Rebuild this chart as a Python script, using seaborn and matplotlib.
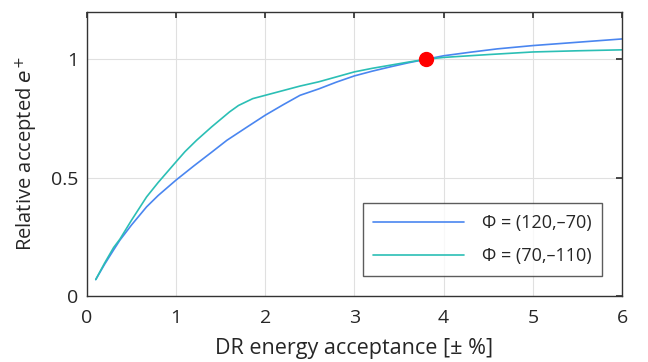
import numpy as np
import pandas as pd
import matplotlib
matplotlib.use("Agg")
import matplotlib.pyplot as plt
import seaborn as sns

# Data
x_a = [0.1, 0.2, 0.3, 0.37, 0.5, 0.67, 0.8, 1.0, 1.2, 1.4, 1.57, 1.8, 2.0, 2.2,
       2.39, 2.6, 2.8, 3.0, 3.2, 3.4, 3.6, 3.8, 4.0, 4.3, 4.6, 5.0, 5.5, 6.0]
y_a = [0.07, 0.135, 0.195, 0.236, 0.3, 0.377, 0.425, 0.49, 0.55, 0.608, 0.658,
       0.715, 0.764, 0.808, 0.848, 0.875, 0.904, 0.93, 0.95, 0.968, 0.985, 1.0,
       1.015, 1.03, 1.044, 1.058, 1.072, 1.086]
x_b = [0.1, 0.2, 0.3, 0.37, 0.5, 0.67, 0.8, 1.0, 1.1, 1.23, 1.4, 1.6, 1.7, 1.86,
       2.0, 2.2, 2.39, 2.6, 2.8, 3.0, 3.2, 3.4, 3.6, 3.8, 4.0, 4.5, 5.0, 5.5, 6.0]
y_b = [0.07, 0.14, 0.205, 0.24, 0.32, 0.419, 0.48, 0.567, 0.61, 0.658, 0.715,
       0.778, 0.805, 0.834, 0.848, 0.868, 0.887, 0.905, 0.926, 0.947, 0.962,
       0.975, 0.988, 1.0, 1.008, 1.02, 1.031, 1.036, 1.04]
label_a = "Φ = (120,–70)"
label_b = "Φ = (70,–110)"
ref_x = [3.8]
ref_y = [1.0]

df = pd.concat([
    pd.DataFrame({"x": x_a, "y": y_a, "series": label_a}),
    pd.DataFrame({"x": x_b, "y": y_b, "series": label_b}),
])

sns.set_theme(style="white")
plt.rcParams['font.family'] = ['Open Sans', 'DejaVu Sans']

fig = plt.figure(figsize=(6.48, 3.62), dpi=100)
ax = fig.add_axes([0.134, 0.182, 0.826, 0.785])

palette = {label_a: "#4a86f0", label_b: "#2bbfb5"}
sns.lineplot(data=df, x="x", y="y", hue="series", palette=palette, ax=ax,
             linewidth=1.2, sort=False, estimator=None)
ax.plot(ref_x, ref_y, 'o', color="#ff0000", markersize=10, zorder=5)

ax.set_xlim(0, 6)
ax.set_ylim(0, 1.2)
ax.set_xticks([0, 1, 2, 3, 4, 5, 6])
ax.set_yticks([0, 0.5, 1])
ax.set_yticklabels(["0", "0.5", "1"])
ax.grid(True, color="#e0e0e0", linewidth=0.8)
ax.tick_params(direction="in", top=True, right=True, labelsize=14, length=4,
               color="#333333")
ax.tick_params(axis="x", pad=9)
ax.tick_params(axis="y", pad=6)
for s in ax.spines.values():
    s.set_color("#333333")
    s.set_linewidth(1.0)
ax.set_xlabel("DR energy acceptance [± %]", fontsize=15.5, labelpad=8)
ax.set_ylabel("Relative accepted $e^{+}$", fontsize=14.5, labelpad=8)

leg = ax.legend(loc="lower right", fontsize=13, handlelength=5.0, frameon=True,
                fancybox=False, edgecolor="#333333", borderaxespad=1.1,
                labelspacing=0.85, borderpad=0.6, handletextpad=1.0)
leg.get_frame().set_linewidth(1.0)

fig.savefig("out.png", dpi=100)
